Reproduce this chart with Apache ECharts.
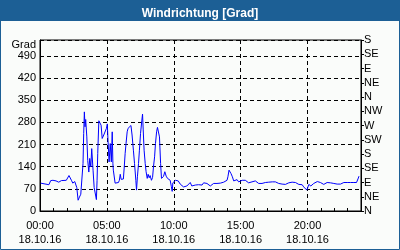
<!DOCTYPE html>
<html><head><meta charset="utf-8">
<script src="https://cdn.jsdelivr.net/npm/echarts@6/dist/echarts.min.js"></script>
<style>html,body{margin:0;padding:0;background:#fafcfa}#c{width:400px;height:250px}</style>
</head><body><div id="c"></div>
<script>
const chartTitle = 'Windrichtung [Grad]';
const dateLabel = '18.10.16';
const leftTicks = [0, 70, 140, 210, 280, 350, 420, 490];
const compassNames = ['N','NE','E','SE','S','SW','W','NW'];
const xTickHours = [0, 5, 10, 15, 20];
const times = ['00:03','00:40','00:48','00:58','01:12','01:24','01:36','01:43','01:58','02:10','02:21','02:27','02:36','02:45','02:51','02:57','03:03','03:09','03:13','03:16','03:19','03:22','03:25','03:30','03:34','03:39','03:43','03:48','03:52','03:58','04:03','04:09','04:13','04:16','04:19','04:24','04:30','04:34','04:39','04:46','04:53','04:58','05:02','05:05','05:10','05:15','05:20','05:24','05:27','05:29','05:37','05:45','05:52','05:56','06:00','06:04','06:09','06:14','06:18','06:22','06:26','06:31','06:35','06:41','06:48','06:53','06:59','07:04','07:10','07:13','07:17','07:22','07:26','07:31','07:37','07:40','07:43','07:47','07:52','07:56','08:01','08:05','08:10','08:14','08:20','08:25','08:29','08:34','08:38','08:43','08:47','08:52','08:56','09:01','09:05','09:10','09:14','09:20','09:26','09:32','09:38','09:44','09:49','09:53','09:56','10:02','10:08','10:14','10:20','10:26','10:29','10:37','10:44','10:52','10:59','11:06','11:14','11:21','11:29','11:37','11:44','11:51','11:59','12:07','12:14','12:22','12:29','12:36','12:44','12:52','12:59','13:06','13:14','13:21','13:29','13:37','13:44','13:51','13:59','14:03','14:08','14:12','14:17','14:23','14:29','14:36','14:44','14:51','14:59','15:07','15:14','15:21','15:29','15:36','15:44','15:51','15:59','16:06','16:14','16:21','16:29','16:36','16:44','16:51','16:59','17:06','17:14','17:22','17:29','17:36','17:44','17:51','17:59','18:06','18:14','18:21','18:29','18:36','18:44','18:51','18:59','19:06','19:14','19:21','19:28','19:36','19:43','19:51','19:57','20:01','20:06','20:10','20:15','20:21','20:28','20:36','20:44','20:51','20:58','21:06','21:13','21:21','21:28','21:36','21:43','21:51','21:58','22:06','22:13','22:21','22:28','22:36','22:43','22:51','22:58','23:06','23:13','23:21','23:28','23:36','23:40','23:45','23:48','23:51'];
const values = [88,83,96,97,95,91,96,94,97,112,97,88,93,74,34,44,53,52,150,245,313,266,289,234,160,123,166,139,197,129,74,71,36,97,182,285,285,271,229,240,245,261,275,224,155,213,155,250,150,129,88,88,90,97,116,100,94,101,139,182,213,250,261,257,270,240,192,150,97,66,108,150,192,245,287,306,256,192,150,124,103,116,105,112,97,106,139,171,213,250,264,265,234,150,103,97,109,124,110,103,106,97,78,62,89,87,97,92,95,90,85,87,76,71,79,82,90,79,73,82,79,83,87,82,89,84,87,83,79,83,87,83,87,90,88,93,91,92,97,108,129,126,118,108,95,89,99,92,97,97,97,97,97,89,95,92,87,95,91,87,92,87,91,90,93,91,92,92,90,92,90,87,87,85,87,84,87,89,87,91,93,90,87,84,87,83,76,73,66,71,84,82,79,84,87,90,93,87,90,87,84,87,90,85,89,84,87,90,85,89,85,89,90,88,90,87,90,89,90,88,90,91,104,110];

function toHours(t){const p=t.split(':');return +p[0]+ (+p[1])/60;}
const seriesData = times.map((t,i)=>[toHours(t), values[i]]);
const pad2 = n => (n<10?'0':'')+n;
const FONT = 'Liberation Sans';
const BLUE = '#1c5f95';

const chart = echarts.init(document.getElementById('c'), null, {renderer:'canvas'});
chart.setOption({
  animation:false,
  backgroundColor:'#fafcfa',
  graphic:[
    {type:'rect', shape:{x:0.5,y:0.5,width:399,height:249}, style:{fill:null, stroke:BLUE, lineWidth:1}, z:100},
    {type:'rect', shape:{x:0,y:0,width:400,height:21}, style:{fill:BLUE}, z:100}
  ],
  title:{text:chartTitle, left:'center', top:3, textStyle:{color:'#fff', fontFamily:FONT, fontWeight:'bold', fontSize:12}, z:101},
  grid:{left:40, right:39, top:40, bottom:39, show:true, borderColor:'#000', borderWidth:1, backgroundColor:'transparent'},
  xAxis:{
    type:'value', min:0, max:24, interval:5,
    axisLine:{show:true, lineStyle:{color:'#000', width:1}},
    axisTick:{show:true, inside:true, length:3, lineStyle:{color:'#000'}},
    minorTick:{show:true, splitNumber:5, length:3, lineStyle:{color:'#000'}},
    splitLine:{show:true, lineStyle:{color:'#000', type:[4,3], width:1}},
    axisLabel:{
      margin:8, color:'#000', fontFamily:FONT, fontSize:11, lineHeight:14,
      showMaxLabel:false,
      formatter:v => xTickHours.indexOf(v)>=0 ? pad2(v)+':00\n'+dateLabel : ''
    }
  },
  yAxis:[
    {
      type:'value', min:0, max:540, interval:70,
      name:'Grad', nameLocation:'end', nameGap:-6,
      nameTextStyle:{color:'#000', fontFamily:FONT, fontSize:11, align:'right', verticalAlign:'middle', padding:[0,4,0,0]},
      axisLine:{show:true, lineStyle:{color:'#000'}},
      axisTick:{show:false},
      splitLine:{show:true, lineStyle:{color:'#000', type:[4,3], width:1}},
      axisLabel:{margin:4, color:'#000', fontFamily:FONT, fontSize:11,
        formatter:v => leftTicks.indexOf(v)>=0 ? String(v) : ''}
    },
    {
      type:'value', min:0, max:540, interval:45, position:'right',
      axisLine:{show:true, lineStyle:{color:'#000'}},
      axisTick:{show:true, length:3, lineStyle:{color:'#000'}},
      splitLine:{show:false},
      axisLabel:{margin:3, color:'#000', fontFamily:FONT, fontSize:11,
        formatter:v => compassNames[Math.round(v/45)%8]}
    }
  ],
  series:[{
    type:'line', data:seriesData, showSymbol:false, symbol:'none',
    lineStyle:{color:'#0000ff', width:1}, yAxisIndex:0
  }]
});
</script></body></html>
